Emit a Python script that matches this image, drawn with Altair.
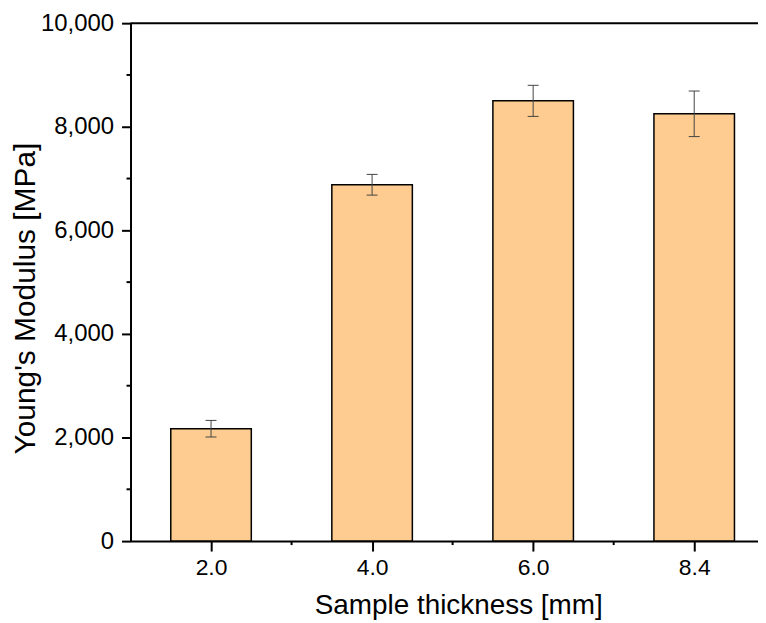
import altair as alt
import pandas as pd

# data
categories = ["2.0", "4.0", "6.0", "8.4"]
means = [2170, 6880, 8500, 8250]
errors = [160, 200, 300, 440]
y_ticks = [0, 2000, 4000, 6000, 8000, 10000]
y_minor = [1000, 3000, 5000, 7000, 9000]

positions = list(range(1, len(categories) + 1))
x_minor = [p + 0.5 for p in positions[:-1]]

W = 630
H = 520
BAND = 161.7
XMAX = 0.5 + W / BAND
FONT = "Liberation Sans"

df = pd.DataFrame({"cat": categories, "pos": positions, "mean": means, "err": errors})
df["lo"] = df["mean"] - df["err"]
df["hi"] = df["mean"] + df["err"]
df["x0"] = df["pos"] - 0.25
df["x1"] = df["pos"] + 0.25
df["cl"] = df["pos"] - 0.034
df["cr"] = df["pos"] + 0.034
df["z"] = 0

xs = alt.Scale(domain=[0.5, XMAX], nice=False, zero=False)
ys = alt.Scale(domain=[0, 10000], nice=False, zero=False)

label_expr = " : ".join(
    [f"datum.value == {p} ? '{c}'" for p, c in zip(positions, categories)]
) + " : ''"

xaxis = alt.Axis(
    values=positions, labelExpr=label_expr, title="Sample thickness [mm]",
    grid=False, tickSize=10, tickWidth=2, domainWidth=2, domainColor="black",
    tickColor="black", labelColor="black", titleColor="black",
    labelFont=FONT, titleFont=FONT, labelFontSize=23, titleFontSize=28,
    titleFontWeight="normal", labelPadding=6,
    titleX=329, titleY=73, titleBaseline="alphabetic",
)
yaxis = alt.Axis(
    values=y_ticks, format=",.0f", title="Young's Modulus [MPa]",
    grid=False, tickSize=9, tickWidth=2, domainWidth=2, domainColor="black",
    tickColor="black", labelColor="black", titleColor="black",
    labelFont=FONT, titleFont=FONT, labelFontSize=24, titleFontSize=30,
    titleFontWeight="normal", labelPadding=8,
    titleX=-96, titleY=276, titleBaseline="alphabetic",
)


def X(field):
    return alt.X(field, scale=xs, axis=xaxis)


def Y(field):
    return alt.Y(field, scale=ys, axis=yaxis)


base = alt.Chart(df)

bars = base.mark_bar(fill="#FECC90", stroke="black", strokeWidth=1.5).encode(
    x=X("x0:Q"), x2="x1:Q", y=Y("mean:Q"), y2="z:Q"
)
err_line = base.mark_rule(color="#444444", strokeWidth=1).encode(
    x=X("pos:Q"), y=Y("lo:Q"), y2="hi:Q"
)
cap_lo = base.mark_rule(color="#444444", strokeWidth=1).encode(
    x=X("cl:Q"), x2="cr:Q", y=Y("lo:Q")
)
cap_hi = base.mark_rule(color="#444444", strokeWidth=1).encode(
    x=X("cl:Q"), x2="cr:Q", y=Y("hi:Q")
)

xm = alt.Chart(pd.DataFrame({"m": x_minor})).mark_rule(color="black", strokeWidth=2).encode(
    x=X("m:Q"), y=alt.value(H), y2=alt.value(H + 4)
)
ym = alt.Chart(pd.DataFrame({"m": y_minor})).mark_rule(color="black", strokeWidth=2).encode(
    y=Y("m:Q"), x=alt.value(0), x2=alt.value(-4)
)
top = alt.Chart(pd.DataFrame({"t": [0]})).mark_rule(color="black", strokeWidth=2).encode(
    x=alt.value(0), x2=alt.value(W), y=alt.value(0)
)

chart = (
    alt.layer(bars, err_line, cap_lo, cap_hi, xm, ym, top)
    .properties(
        width=W, height=H,
        padding={"left": 123, "top": 14, "right": 0, "bottom": 80},
        autosize=alt.AutoSizeParams(type="none"),
        background="white",
    )
    .configure_view(strokeWidth=0)
)

chart.save("out.html", embed_options={"renderer": "svg", "actions": False})
